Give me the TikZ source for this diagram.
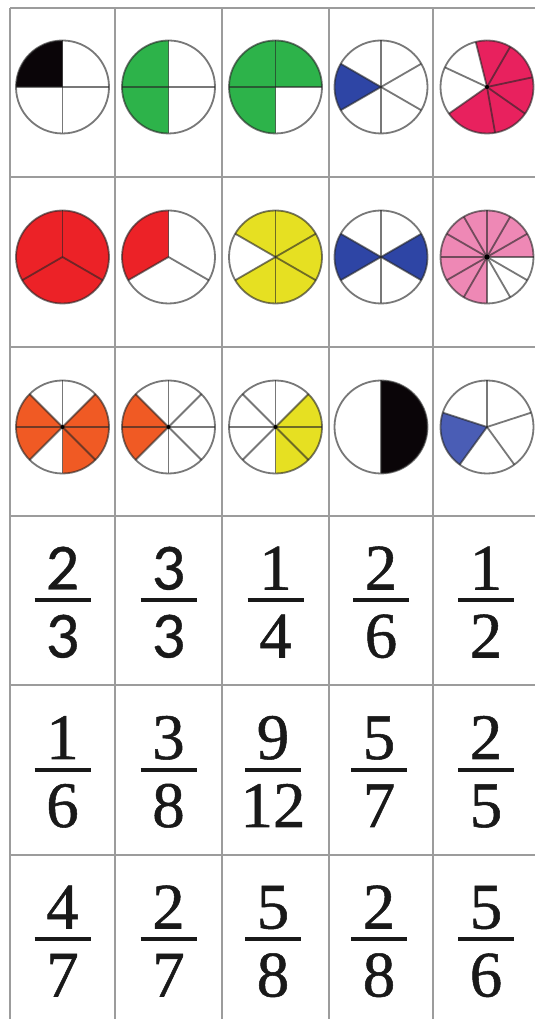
\documentclass[tikz,border=0pt]{standalone}
\usepackage{fontspec}
\setmainfont{Liberation Serif}
\newfontfamily\fracfont[FakeBold=0.8]{Liberation Serif}
\newfontfamily\calfont[FakeBold=0.6]{Carlito}
\definecolor{gridgray}{HTML}{9C9C9C}
\definecolor{pblack}{HTML}{0A0508}
\definecolor{pgreen}{HTML}{2DB34A}
\definecolor{pblue}{HTML}{2E45A5}
\definecolor{pbluel}{HTML}{4A5DB5}
\definecolor{pcrimson}{HTML}{E8215E}
\definecolor{pred}{HTML}{EC2227}
\definecolor{pyellow}{HTML}{E6E022}
\definecolor{ppink}{HTML}{EE88B5}
\definecolor{porange}{HTML}{F05A24}
\tikzset{
  gridline/.style={draw=gridgray, line width=2.2pt},
  pieline/.style={draw=black!85, draw opacity=0.62, line width=1.8pt},
  fracbar/.style={line width=4pt, draw=black!90},
  fracdigit/.style={inner sep=0pt, font=\fracfont\fontsize{65}{70}\selectfont, text=black!90},
  numpos/.style={anchor=base},
  denpos/.style={anchor=base},
}
\def\pieR{46.5}
\newcommand{\pielines}[3]{%
  \foreach \a in {#3}{\draw[pieline] (#1,#2) -- ++(\a:\pieR);}
  \draw[pieline] (#1,#2) circle[radius=\pieR];}
\newcommand{\piefill}[5]{%
  \fill[#5] (#1,#2) -- ++(#3:\pieR) arc[start angle=#3, end angle=#4, radius=\pieR] -- cycle;}
\newcommand{\frc}[6]{%
  \node[fracdigit,numpos,#6] (#1n) at (#2,#3+11) {#4};
  \node[fracdigit,denpos,#6] (#1d) at (#2,#3-57) {#5};
  \draw[fracbar] (#2-28,#3) -- (#2+28,#3);}
\begin{document}
\begin{tikzpicture}[x=1pt,y=1pt]
\useasboundingbox (0,0) rectangle (535,1019);
\fill[white] (0,0) rectangle (535,1019);
% grid
\foreach \x in {10,115,222,329,433}{\draw[gridline] (\x,1011) -- (\x,0);}
\foreach \y in {1011,842,672,503,334,164}{\draw[gridline] (10,\y) -- (535,\y);}
% ---------- row 1 (y=932)
\piefill{62.5}{932}{90}{180}{pblack}
\pielines{62.5}{932}{0,90,180,270}
\piefill{168.5}{932}{90}{270}{pgreen}
\pielines{168.5}{932}{0,90,180,270}
\piefill{275.5}{932}{0}{270}{pgreen}
\pielines{275.5}{932}{0,90,180,270}
\piefill{381}{932}{150}{210}{pblue}
\pielines{381}{932}{30,90,150,210,270,330}
\piefill{487}{932}{-145}{104}{pcrimson}
\pielines{487}{932}{104,60,12,-35,-80,215,155}
\fill[black] (487,932) circle[radius=2];
% ---------- row 2 (y=762)
\fill[pred] (62.5,762) circle[radius=\pieR];
\pielines{62.5}{762}{90,210,330}
\piefill{168.5}{762}{90}{210}{pred}
\pielines{168.5}{762}{90,210,330}
\piefill{275.5}{762}{-150}{150}{pyellow}
\pielines{275.5}{762}{30,90,150,210,270,330}
\piefill{381}{762}{150}{210}{pblue}
\piefill{381}{762}{-30}{30}{pblue}
\pielines{381}{762}{30,90,150,210,270,330}
\piefill{487}{762}{0}{270}{ppink}
\pielines{487}{762}{0,30,60,90,120,150,180,210,240,270,300,330}
\fill[black] (487,762) circle[radius=2.5];
% ---------- row 3 (y=592)
\piefill{62.5}{592}{135}{225}{porange}
\piefill{62.5}{592}{-90}{45}{porange}
\pielines{62.5}{592}{0,45,90,135,180,225,270,315}
\fill[black] (62.5,592) circle[radius=2];
\piefill{168.5}{592}{135}{225}{porange}
\pielines{168.5}{592}{0,45,90,135,180,225,270,315}
\fill[black] (168.5,592) circle[radius=2];
\piefill{275.5}{592}{-90}{45}{pyellow}
\pielines{275.5}{592}{0,45,90,135,180,225,270,315}
\fill[black] (275.5,592) circle[radius=2];
\piefill{381}{592}{-90}{90}{pblack}
\pielines{381}{592}{90,270}
\piefill{487}{592}{162}{234}{pbluel}
\pielines{487}{592}{90,18,-54,234,162}
% ---------- fractions row 4 (bar y=418.5)
\frc{f41}{62.5}{418.5}{2}{3}{font=\calfont\fontsize{66}{70}\selectfont}
\frc{f42}{168.5}{418.5}{3}{3}{font=\calfont\fontsize{66}{70}\selectfont}
\frc{f43}{275.5}{418.5}{1}{4}{}
\frc{f44}{381}{418.5}{2}{6}{}
\frc{f45}{486}{418.5}{1}{2}{}
% ---------- row 5 (bar y=249)
\frc{f51}{62.5}{249}{1}{6}{}
\frc{f52}{168.5}{249}{3}{8}{}
\frc{f53}{273}{249}{9}{12}{}
\frc{f54}{379}{249}{5}{7}{}
\frc{f55}{486}{249}{2}{5}{}
% ---------- row 6 (bar y=79.5)
\frc{f61}{62.5}{79.5}{4}{7}{}
\frc{f62}{168.5}{79.5}{2}{7}{}
\frc{f63}{273}{79.5}{5}{8}{}
\frc{f64}{379}{79.5}{2}{8}{}
\frc{f65}{486}{79.5}{5}{6}{}
\end{tikzpicture}
\end{document}
